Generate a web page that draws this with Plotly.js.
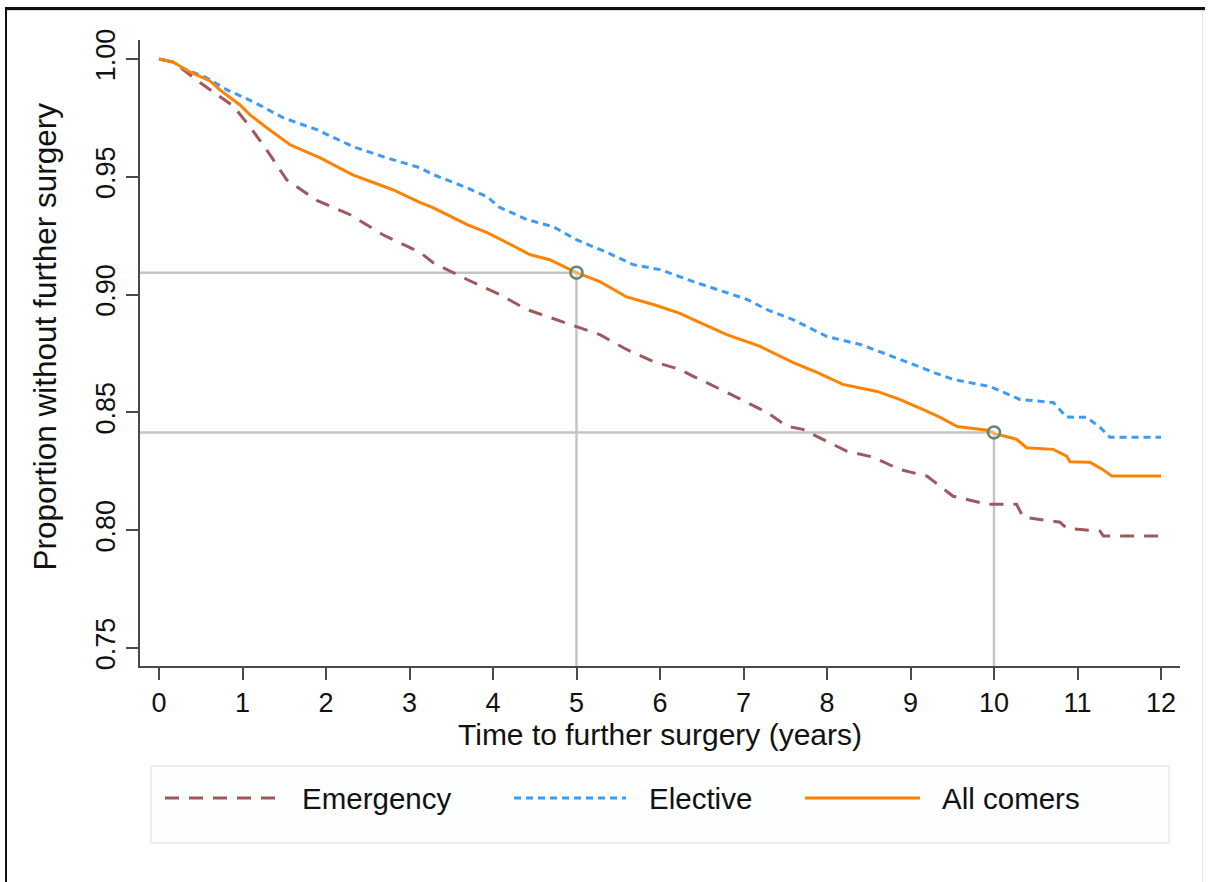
<!DOCTYPE html>
<html>
<head>
<meta charset="utf-8">
<script src="https://cdn.plot.ly/plotly-3.0.1.min.js"></script>
<style>
  html, body { margin: 0; padding: 0; background: #ffffff; }
  #wrap { position: relative; width: 1210px; height: 882px; overflow: hidden; }
  #chart { position: absolute; left: 0; top: 0; width: 1210px; height: 882px; }
  .frame-top { position: absolute; left: 5px; top: 7px; width: 1200px; height: 3px; background: #111; }
  .frame-top2 { position: absolute; left: 5px; top: 10px; width: 1200px; height: 1px; background: #d8dede; }
  .frame-left { position: absolute; left: 5px; top: 7px; width: 2px; height: 875px; background: #111; }
  .frame-right { position: absolute; left: 1202px; top: 10px; width: 1px; height: 872px; background: #e2e6e6; }
</style>
</head>
<body>
<div id="wrap">
  <div id="chart"></div>
  <div class="frame-top"></div>
  <div class="frame-top2"></div>
  <div class="frame-left"></div>
  <div class="frame-right"></div>
</div>
<script>
// ---- Data ----
const seriesNames = ["Emergency", "Elective", "All comers"];

const emergencyT = [0, 0.17, 0.25, 0.49, 0.69, 0.89, 1.09, 1.29, 1.53, 1.89, 2.29, 2.68, 3.13, 3.28, 3.69, 4.08, 4.41, 4.65, 5.0, 5.28, 5.6, 5.92, 6.24, 6.4, 6.8, 7.04, 7.28, 7.52, 7.71, 8.0, 8.24, 8.55, 8.87, 9.2, 9.35, 9.51, 9.92, 10.27, 10.35, 10.79, 10.87, 11.27, 11.31, 12];
const emergencyS = [1.0, 0.9987, 0.9966, 0.990, 0.985, 0.980, 0.9712, 0.9614, 0.9487, 0.940, 0.9339, 0.9254, 0.9178, 0.9136, 0.9064, 0.900, 0.8936, 0.8907, 0.8864, 0.883, 0.8767, 0.8716, 0.8682, 0.8653, 0.8585, 0.8542, 0.850, 0.8441, 0.8428, 0.8377, 0.8335, 0.831, 0.8258, 0.8229, 0.8186, 0.8144, 0.811, 0.811, 0.8055, 0.8034, 0.8008, 0.7996, 0.7975, 0.7975];

const electiveT = [0, 0.17, 0.29, 0.57, 0.81, 1.13, 1.49, 1.89, 2.33, 2.73, 3.13, 3.28, 3.69, 3.93, 4.08, 4.41, 4.72, 5.0, 5.37, 5.68, 6.0, 6.4, 6.8, 7.04, 7.28, 7.59, 8.0, 8.4, 8.72, 9.03, 9.35, 9.51, 9.95, 10.31, 10.71, 10.87, 11.11, 11.27, 11.39, 12];
const electiveS = [1.0, 0.9987, 0.996, 0.992, 0.987, 0.9818, 0.975, 0.970, 0.9627, 0.958, 0.9538, 0.951, 0.9453, 0.9415, 0.937, 0.9318, 0.9288, 0.9233, 0.9178, 0.9127, 0.9106, 0.9055, 0.9008, 0.898, 0.8936, 0.8894, 0.8822, 0.8788, 0.8746, 0.8703, 0.866, 0.864, 0.861, 0.8555, 0.8542, 0.848, 0.8479, 0.8436, 0.8394, 0.8394];

const allT = [0, 0.17, 0.37, 0.61, 0.73, 0.97, 1.09, 1.29, 1.57, 1.93, 2.32, 2.8, 3.13, 3.28, 3.69, 3.93, 4.17, 4.44, 4.68, 5.0, 5.28, 5.6, 5.92, 6.24, 6.4, 6.8, 7.2, 7.59, 7.88, 8.19, 8.6, 8.87, 9.2, 9.35, 9.56, 9.92, 10.01, 10.27, 10.39, 10.71, 10.87, 10.91, 11.15, 11.3, 11.41, 12];
const allS = [1.0, 0.9987, 0.9945, 0.9907, 0.9869, 0.9805, 0.9763, 0.9708, 0.9636, 0.958, 0.9508, 0.9445, 0.939, 0.9369, 0.9297, 0.9263, 0.922, 0.917, 0.9148, 0.9093, 0.9055, 0.899, 0.8958, 0.892, 0.8894, 0.883, 0.878, 0.8712, 0.867, 0.8619, 0.8589, 0.8555, 0.8504, 0.848, 0.844, 0.8424, 0.841, 0.8386, 0.835, 0.8343, 0.8314, 0.829, 0.8288, 0.8258, 0.823, 0.823];

// Marked survival points (5 and 10 years, all comers)
const markT = [5, 10];
const markS = [0.9093, 0.8415];

// Axis ticks
const xTicks = [0, 1, 2, 3, 4, 5, 6, 7, 8, 9, 10, 11, 12];
const yTicks = [0.75, 0.80, 0.85, 0.90, 0.95, 1.00];

// ---- Styling ----
const xRange = [-0.2275, 12.2275];
const yRange = [0.74235, 1.00806];
const colors = { emergency: "#a0585f", elective: "#3d9bf7", all: "#ff8200", ref: "#c4c4c4", mark: "#5f8575" };
const FONT = "Liberation Sans, Arial, Helvetica, sans-serif";

const traces = [];
// Drop lines for marked points
markT.forEach((t, i) => {
  traces.push({
    x: [xRange[0], t, t], y: [markS[i], markS[i], yRange[0]],
    mode: "lines", line: { color: colors.ref, width: 2.5 },
    hoverinfo: "skip", showlegend: false
  });
});
traces.push({ x: emergencyT, y: emergencyS, name: seriesNames[0], mode: "lines",
  line: { color: colors.emergency, width: 3, dash: "14px,10px" }, showlegend: false });
traces.push({ x: electiveT, y: electiveS, name: seriesNames[1], mode: "lines",
  line: { color: colors.elective, width: 3, dash: "7px,5px" }, showlegend: false });
traces.push({ x: allT, y: allS, name: seriesNames[2], mode: "lines",
  line: { color: colors.all, width: 3 }, showlegend: false });
traces.push({ x: markT, y: markS, mode: "markers",
  marker: { symbol: "circle", size: 12, color: "rgba(255,255,255,0.35)", line: { color: colors.mark, width: 2.5 } },
  showlegend: false, hoverinfo: "skip" });

// ---- Manual legend (Stata-style box under the plot) ----
const plotL = 140, plotR = 1180, plotT = 40, plotB = 666;
const px2x = px => (px - plotL) / (plotR - plotL);
const px2y = py => (plotB - py) / (plotB - plotT);
const legY = px2y(798);
const legendItems = [
  { name: seriesNames[0], color: colors.emergency, dash: "14px,10px", x0: 165, x1: 282, tx: 300 },
  { name: seriesNames[1], color: colors.elective, dash: "7px,5px", x0: 514, x1: 626, tx: 647 },
  { name: seriesNames[2], color: colors.all, dash: "solid", x0: 805, x1: 920, tx: 940 }
];
const shapes = [
  { type: "rect", xref: "paper", yref: "paper", x0: px2x(151), x1: px2x(1169), y0: px2y(843), y1: px2y(766),
    line: { color: "#e4ebef", width: 1.5 }, fillcolor: "#fdfefe", layer: "below" }
];
const annotations = [];
legendItems.forEach(it => {
  shapes.push({ type: "line", xref: "paper", yref: "paper", x0: px2x(it.x0), x1: px2x(it.x1), y0: legY, y1: legY,
    line: { color: it.color, width: 3, dash: it.dash } });
  annotations.push({ xref: "paper", yref: "paper", x: px2x(it.tx), y: legY, xanchor: "left", yanchor: "middle",
    text: it.name, showarrow: false, font: { family: FONT, size: 29.5, color: "#111111" } });
});
// y axis title as annotation (Stata centres it slightly above the axis middle)
annotations.push({ xref: "paper", yref: "y", x: px2x(45), y: 0.8822, xanchor: "center", yanchor: "middle",
  textangle: -90, text: "Proportion without further surgery", showarrow: false,
  font: { family: FONT, size: 31.5, color: "#111111" } });

const layout = {
  width: 1210, height: 882,
  margin: { l: plotL, r: 1210 - plotR, t: plotT, b: 882 - plotB, pad: 0 },
  paper_bgcolor: "#ffffff", plot_bgcolor: "#ffffff",
  font: { family: FONT, color: "#111111" },
  showlegend: false,
  xaxis: {
    range: xRange, tickmode: "array", tickvals: xTicks, ticktext: xTicks.map(String),
    showgrid: false, zeroline: false, showline: true, linecolor: "#4a4a4a", linewidth: 2,
    ticks: "outside", ticklen: 12, tickwidth: 2, tickcolor: "#4a4a4a",
    tickfont: { family: FONT, size: 27, color: "#111111" },
    title: { text: "Time to further surgery (years)", font: { family: FONT, size: 30, color: "#111111" }, standoff: 6 }
  },
  yaxis: {
    range: yRange, tickmode: "array", tickvals: yTicks, ticktext: yTicks.map(v => v.toFixed(2)),
    showgrid: false, zeroline: false, showline: true, linecolor: "#4a4a4a", linewidth: 2,
    ticks: "outside", ticklen: 12, tickwidth: 2, tickcolor: "#4a4a4a", tickangle: -90,
    tickfont: { family: FONT, size: 27, color: "#111111" }
  },
  shapes: shapes,
  annotations: annotations
};

Plotly.newPlot("chart", traces, layout, { displayModeBar: false, staticPlot: true });
</script>
</body>
</html>
